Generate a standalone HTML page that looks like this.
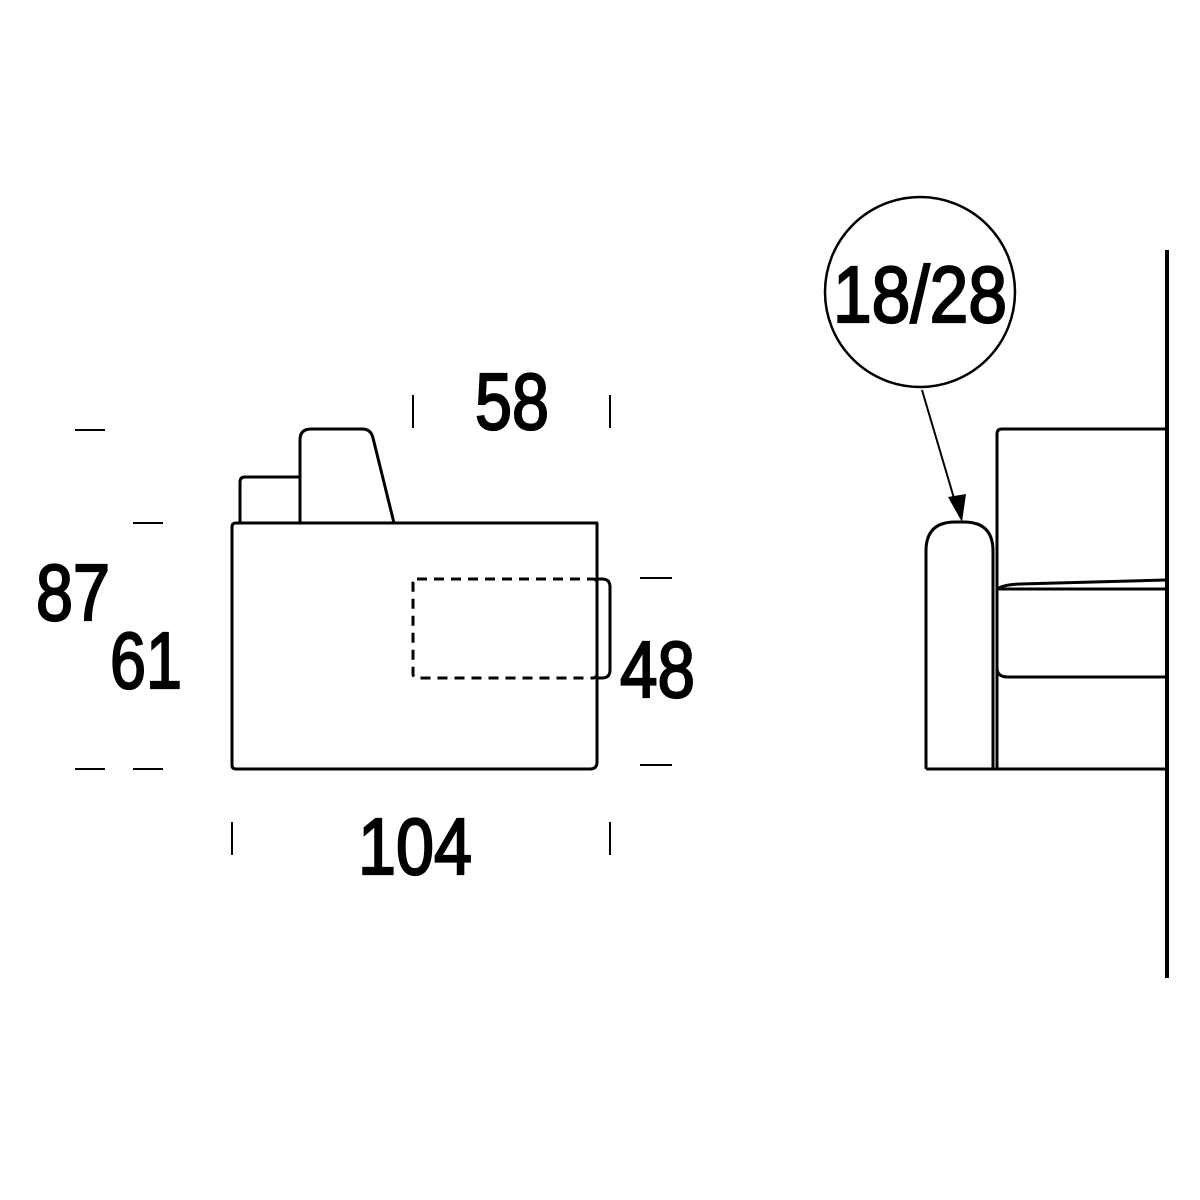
<!DOCTYPE html>
<html><head><style>html,body{margin:0;padding:0;background:#fff}svg{display:block}</style></head>
<body>
<svg width="1200" height="1200" viewBox="0 0 1200 1200" xmlns="http://www.w3.org/2000/svg">
<rect width="1200" height="1200" fill="#fff"/>
<g fill="none" stroke="#000" stroke-width="3" stroke-linejoin="round">
<path d="M236 523 H597 V762 Q597 769 590 769 H236 Q232 769 232 765 V527 Q232 523 236 523 Z"/>
<path d="M240 523 V482 Q240 477 245 477 H300"/>
<path d="M300 523 V440 Q300 429 311 429 H362 Q371 429 373 438 L394 523"/>
<rect x="413" y="579" width="184" height="99" rx="4" stroke-dasharray="10 7"/>
<path d="M597 579 H602 Q610 579 610 587 V670 Q610 678 602 678 H597"/>
<path d="M75 430 H105 M133 523 H163 M75 769 H105 M133 769 H163 M640 578 H672 M640 765 H672" stroke-width="2"/>
<path d="M413 395 V428 M610 395 V428 M232 822 V855 M610 822 V855" stroke-width="2"/>
<circle cx="920" cy="292" r="95" stroke-width="2.5"/>
<line x1="922" y1="390" x2="956" y2="505" stroke-width="2"/>
<path d="M926 769 V551 Q926 522 955 522 H964 Q993 522 993 551 V769"/>
<path d="M926 769 H1166"/>
<path d="M997 769 V434 Q997 429 1002 429 H1166"/>
<path d="M997 590 Q1000 585 1020 584 L1166 580"/>
<path d="M997 589 H1166"/>
<path d="M997 668 Q997 677 1008 677 H1166"/>
<line x1="1167" y1="250" x2="1167" y2="978" stroke-width="4"/>
</g>
<polygon points="948,497 966,494 962,522" fill="#000"/>
<g font-family="Liberation Sans, sans-serif" font-size="80" fill="#000" stroke="#000" stroke-width="2.2">
<text x="475" y="429" textLength="74" lengthAdjust="spacingAndGlyphs">58</text>
<text x="36" y="620" textLength="74" lengthAdjust="spacingAndGlyphs">87</text>
<text x="110" y="688" textLength="72" lengthAdjust="spacingAndGlyphs">61</text>
<text x="620" y="697" textLength="75" lengthAdjust="spacingAndGlyphs">48</text>
<text x="358" y="874" textLength="114" lengthAdjust="spacingAndGlyphs">104</text>
<text x="833" y="322" textLength="174" lengthAdjust="spacingAndGlyphs">18/28</text>
</g>
</svg>
</body></html>
